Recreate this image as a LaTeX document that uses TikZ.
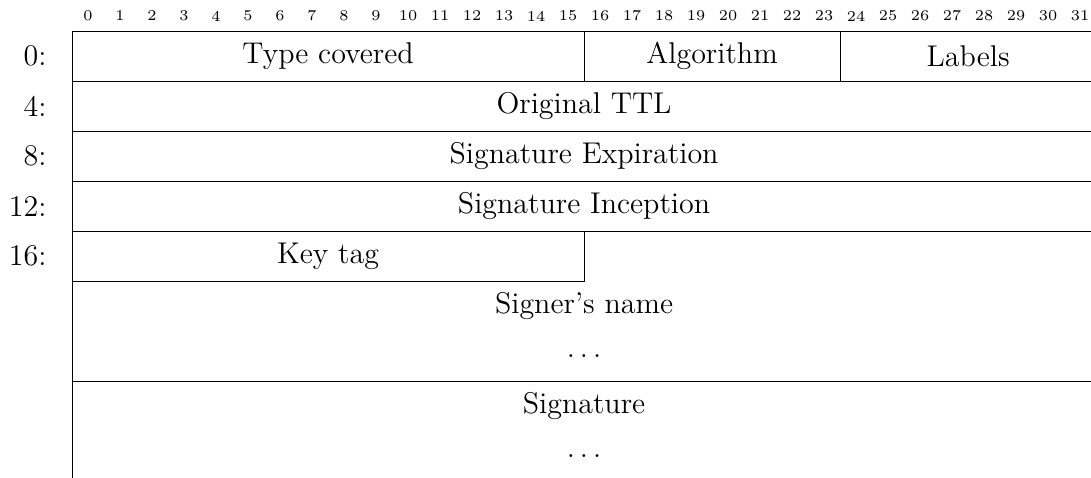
\documentclass[tikz,border=0pt]{standalone}
\usepackage{tikz}
\usetikzlibrary{positioning}
\tikzset{
  fieldtext/.style={font=\fontsize{12}{14}\selectfont},
  bitnum/.style={font=\fontsize{6}{7}\selectfont, inner sep=0pt},
  wordnum/.style={font=\fontsize{12}{14}\selectfont, anchor=east, inner sep=0pt}
}
\begin{document}
\begin{tikzpicture}[x=12.8pt, y=-20pt]
        \useasboundingbox (-2.25,-0.62) rectangle (31.84,8.92);
        % Bit numbers
        \foreach \b in {0,...,31}
          \node[bitnum] (bit\b) at (\b+0.5,-0.3) {\b};
        % Word offsets
        \foreach \r/\w in {0/0,1/4,2/8,3/12,4/16}
          \node[wordnum] (word\w) at (-0.78,\r+0.5) {\w:};
        % Frame lines
        \draw (0,9) -- (0,0) -- (32,0);
        \draw (0,1) -- (32,1);
        \draw (0,2) -- (32,2);
        \draw (0,3) -- (32,3);
        \draw (0,4) -- (32,4);
        \draw (0,5) -- (16,5) -- (16,4);
        \draw (0,7) -- (32,7);
        \draw (16,0) -- (16,1);
        \draw (24,0) -- (24,1);
        % Field labels
        \node[fieldtext] (typecov) at (8,0.5) {Type covered};
        \node[fieldtext] (algo) at (20,0.5) {Algorithm};
        \node[fieldtext] (labels) at (28,0.5) {Labels};
        \node[fieldtext] (origttl) at (16,1.5) {Original TTL};
        \node[fieldtext] (sigexp) at (16,2.5) {Signature Expiration};
        \node[fieldtext] (sigincep) at (16,3.5) {Signature Inception};
        \node[fieldtext] (keytag) at (8,4.5) {Key tag};
        \node[fieldtext] (signer) at (16,5.5) {Signer's name};
        \node[fieldtext] (signerdots) at (16,6.5) {$\ldots$};
        \node[fieldtext] (sig) at (16,7.5) {Signature};
        \node[fieldtext] (sigdots) at (16,8.5) {$\ldots$};
      \end{tikzpicture}
\end{document}
